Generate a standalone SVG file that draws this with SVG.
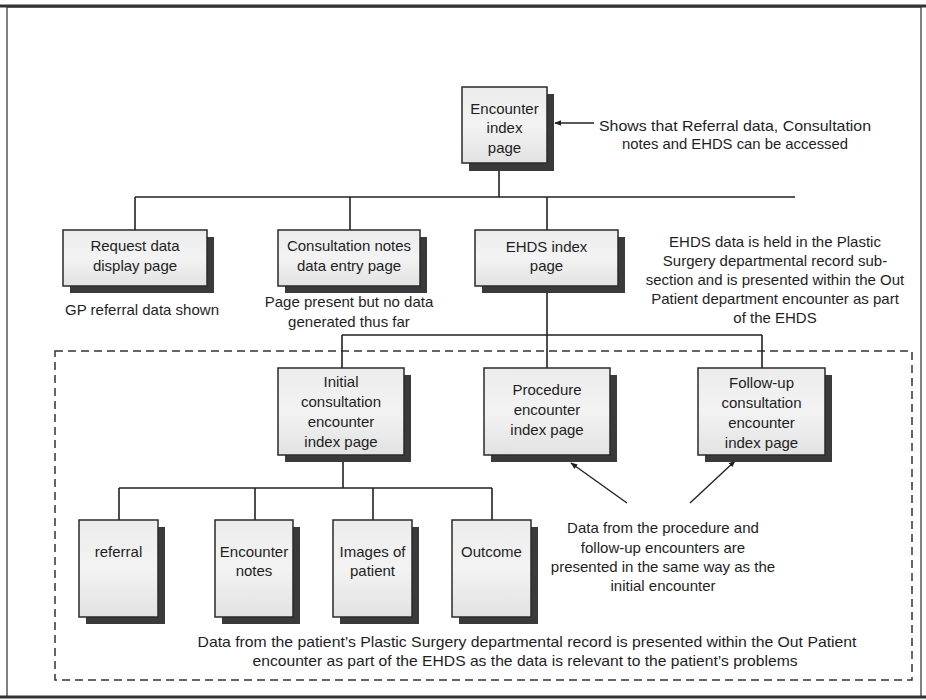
<svg xmlns="http://www.w3.org/2000/svg" width="926" height="700" viewBox="0 0 926 700">
  <defs>
    <linearGradient id="boxFill" x1="0" y1="0" x2="0" y2="1">
      <stop offset="0" stop-color="#ececec"/>
      <stop offset="0.5" stop-color="#f3f3f3"/>
      <stop offset="1" stop-color="#e2e2e2"/>
    </linearGradient>
    <marker id="arrow" viewBox="0 0 10 10" refX="9" refY="5" markerWidth="7" markerHeight="7" orient="auto-start-reverse" markerUnits="userSpaceOnUse">
      <path d="M0,1 L10,5 L0,9 Z" fill="#222"/>
    </marker>
  </defs>
  <style>
    text { font-family: "Liberation Sans", Arial, sans-serif; font-size: 15px; fill: #1e1e1e; text-anchor: middle; }
    .shadow { fill: #3a3a3a; }
    .box { fill: url(#boxFill); stroke: #2a2a2a; stroke-width: 1.5; }
    .wire { fill: none; stroke: #222; stroke-width: 1.6; }
    .arrowline { fill: none; stroke: #222; stroke-width: 1.4; marker-end: url(#arrow); }
    .frame { fill: none; stroke: #555; stroke-width: 1.5; }
    .dash { fill: none; stroke: #333; stroke-width: 1.5; stroke-dasharray: 8 5; }
  </style>

  <!-- page background and outer frame -->
  <rect x="0" y="0" width="926" height="700" fill="#ffffff"/>
  <rect class="frame" x="7" y="7" width="914" height="690"/>
  <line x1="0" y1="6" x2="926" y2="6" stroke="#333" stroke-width="3"/>
  <line x1="0" y1="697" x2="926" y2="697" stroke="#333" stroke-width="3"/>

  <!-- dashed region holding the departmental record pages -->
  <rect class="dash" x="55" y="351" width="857" height="329"/>

  <!-- connectors -->
  <g id="connectors">
    <path class="wire" d="M499,170 V197 M135,197 H795 M135,197 V230 M350,197 V230 M547,197 V230"/>
    <path class="wire" d="M547,293 V368 M342,335 H762 M342,335 V368 M762,335 V368"/>
    <path class="wire" d="M343,462 V488 M119,488 H492 M119,488 V520 M255,488 V520 M373,488 V520 M492,488 V520"/>
    <line class="arrowline" x1="594" y1="123" x2="555" y2="123"/>
    <line class="arrowline" x1="627" y1="503" x2="571" y2="463"/>
    <line class="arrowline" x1="690" y1="503" x2="735" y2="461"/>
  </g>

  <!-- top level -->
  <g id="encounter-index">
    <rect class="shadow" x="469" y="94" width="85" height="77"/>
    <rect class="box" x="462" y="87" width="85" height="76"/>
    <text x="504.5" y="114">Encounter</text>
    <text x="504.5" y="133">index</text>
    <text x="504.5" y="153">page</text>
  </g>
  <g id="note-access">
    <text x="735" y="131" textLength="272" lengthAdjust="spacingAndGlyphs">Shows that Referral data, Consultation</text>
    <text x="735" y="149" textLength="226" lengthAdjust="spacingAndGlyphs">notes and EHDS can be accessed</text>
  </g>

  <!-- second level -->
  <g id="request-data">
    <rect class="shadow" x="70" y="237" width="144" height="56"/>
    <rect class="box" x="63" y="230" width="144" height="56"/>
    <text x="135" y="251">Request data</text>
    <text x="135" y="271">display page</text>
  </g>
  <g id="consultation-notes">
    <rect class="shadow" x="285" y="237" width="142" height="56"/>
    <rect class="box" x="278" y="230" width="142" height="56"/>
    <text x="349" y="251">Consultation notes</text>
    <text x="349" y="271">data entry page</text>
  </g>
  <g id="ehds-index">
    <rect class="shadow" x="482" y="237" width="143" height="56"/>
    <rect class="box" x="475" y="230" width="143" height="56"/>
    <text x="546.5" y="252">EHDS index</text>
    <text x="546.5" y="271">page</text>
  </g>
  <g id="note-gp">
    <text x="142" y="315">GP referral data shown</text>
  </g>
  <g id="note-no-data">
    <text x="349" y="307">Page present but no data</text>
    <text x="349" y="327">generated thus far</text>
  </g>
  <g id="note-ehds">
    <text x="775" y="247">EHDS data is held in the Plastic</text>
    <text x="775" y="266">Surgery departmental record sub-</text>
    <text x="775" y="285">section and is presented within the Out</text>
    <text x="775" y="304">Patient department encounter as part</text>
    <text x="775" y="323">of the EHDS</text>
  </g>

  <!-- third level -->
  <g id="initial-consultation">
    <rect class="shadow" x="285" y="375" width="126" height="87"/>
    <rect class="box" x="278" y="368" width="126" height="87"/>
    <text x="341" y="387">Initial</text>
    <text x="341" y="407">consultation</text>
    <text x="341" y="427">encounter</text>
    <text x="341" y="447">index page</text>
  </g>
  <g id="procedure">
    <rect class="shadow" x="491" y="375" width="126" height="87"/>
    <rect class="box" x="484" y="368" width="126" height="87"/>
    <text x="547" y="395">Procedure</text>
    <text x="547" y="415">encounter</text>
    <text x="547" y="435">index page</text>
  </g>
  <g id="follow-up">
    <rect class="shadow" x="705" y="375" width="127" height="87"/>
    <rect class="box" x="698" y="368" width="127" height="87"/>
    <text x="761.5" y="388">Follow-up</text>
    <text x="761.5" y="408">consultation</text>
    <text x="761.5" y="428">encounter</text>
    <text x="761.5" y="448">index page</text>
  </g>

  <!-- fourth level -->
  <g id="referral">
    <rect class="shadow" x="86" y="527" width="79" height="97"/>
    <rect class="box" x="79" y="520" width="79" height="97"/>
    <text x="118.5" y="557">referral</text>
  </g>
  <g id="encounter-notes">
    <rect class="shadow" x="222" y="527" width="78" height="97"/>
    <rect class="box" x="215" y="520" width="78" height="97"/>
    <text x="254" y="557">Encounter</text>
    <text x="254" y="576">notes</text>
  </g>
  <g id="images">
    <rect class="shadow" x="340" y="527" width="79" height="97"/>
    <rect class="box" x="333" y="520" width="79" height="97"/>
    <text x="372.5" y="557">Images of</text>
    <text x="372.5" y="576">patient</text>
  </g>
  <g id="outcome">
    <rect class="shadow" x="459" y="527" width="79" height="97"/>
    <rect class="box" x="452" y="520" width="79" height="97"/>
    <text x="491.5" y="557">Outcome</text>
  </g>
  <g id="note-same-way">
    <text x="663" y="533">Data from the procedure and</text>
    <text x="663" y="553">follow-up encounters are</text>
    <text x="663" y="572">presented in the same way as the</text>
    <text x="663" y="591">initial encounter</text>
  </g>
  <g id="note-departmental">
    <text x="527" y="647" textLength="659" lengthAdjust="spacingAndGlyphs">Data from the patient’s Plastic Surgery departmental record is presented within the Out Patient</text>
    <text x="525" y="666" textLength="545" lengthAdjust="spacingAndGlyphs">encounter as part of the EHDS as the data is relevant to the patient’s problems</text>
  </g>
</svg>
